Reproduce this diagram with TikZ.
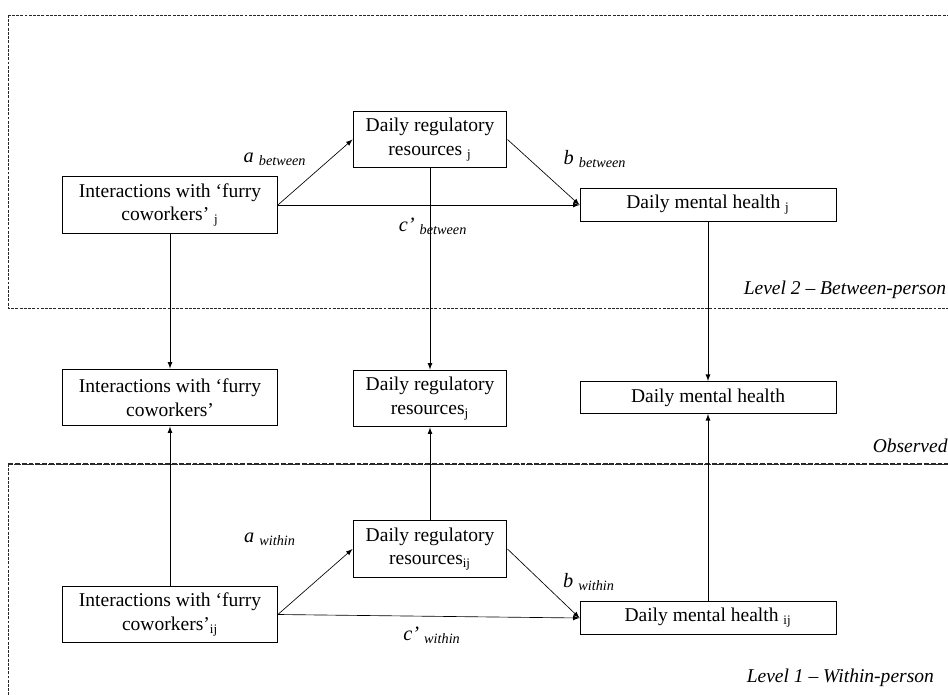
\documentclass[tikz,border=0pt]{standalone}
\usepackage{fontspec}
\setmainfont{Liberation Serif}
\usetikzlibrary{shapes,arrows,positioning,calc}
\definecolor{framegray}{RGB}{40,40,40}

\begin{document}
\begin{tikzpicture}[x=0.6145pt, y=-0.6145pt,
		font=\fontsize{12}{14.6}\selectfont,
		varbox/.style={draw, line width=0.6pt, align=center, inner sep=2pt, minimum height=35pt},
		predbox/.style={varbox, minimum width=132pt},
		medbox/.style={varbox, minimum width=94.6pt},
		outbox/.style={varbox, minimum width=157.3pt, minimum height=19.7pt},
		path/.style={line width=0.4pt, -latex},
		coef/.style={font=\fontsize{12.5}{14}\selectfont\itshape},
		lvl/.style={anchor=west, font=\fontsize{12}{14}\selectfont\itshape},
		frame/.style={framegray, line width=0.5pt, dash pattern=on 1.8pt off 0.8pt}]
				\useasboundingbox (0,0) rectangle (948,695);
				\clip (0,0) rectangle (948,695);
				
				% Level frames
				\draw[frame] (8,15) rectangle (975,308);
				\draw[frame] (8,464) rectangle (975,720);
				\draw[frame, line width=1pt, dash pattern=on 3pt off 1.2pt] (8,464) -- (975,464);
				
				% Between-person level
				\node[predbox] (xb) at (170,205) {Interactions with ‘furry\\coworkers’ \textsubscript{j}};
				\node[medbox] (drrb) at (430,139.5) {Daily regulatory\\resources \textsubscript{j}};
				\node[outbox] (dmhb) at (708,205) {Daily mental health \textsubscript{j}};
				
				\draw[path] (xb.east) -- (drrb.west);
				\draw[path] (drrb.east) -- (dmhb.west);
				\draw[path] (xb.east) -- (dmhb.west);
				\node[coef] (ab) at (275,159) {a \textsubscript{between}};
				\node[coef] (bb) at (595,159) {b \textsubscript{between}};
				\node[coef] (cb) at (433,226) {c’ \textsubscript{between}};
				\node[lvl] (lv2) at (738,290) {Level 2 -- Between-person};
				
				% Observed variables
				\node[predbox] (xo) at (170,397.5) {Interactions with ‘furry\\coworkers’};
				\node[medbox] (drro) at (430,398.5) {Daily regulatory\\resources\textsubscript{j}};
				\node[outbox] (dmho) at (708,397.5) {Daily mental health};
				\node[lvl] (obs) at (867,446) {Observed};
				
				\draw[path] (xb) -- (xo);
				\draw[path] (drrb) -- (drro);
				\draw[path] (dmhb) -- (dmho);
				
				% Within-person level
				\node[predbox] (xw) at (170,614.5) {Interactions with ‘furry\\coworkers’\textsubscript{ij}};
				\node[medbox] (drrw) at (430,549) {Daily regulatory\\resources\textsubscript{ij}};
				\node[outbox] (dmhw) at (708,618) {Daily mental health \textsubscript{ij}};
				
				\draw[path] (xw.east) -- (drrw.west);
				\draw[path] (drrw.east) -- (dmhw.west);
				\draw[path] (xw.east) -- (dmhw.west);
				\node[coef] (aw) at (270,539) {a \textsubscript{within}};
				\node[coef] (bw) at (589,582) {b \textsubscript{within}};
				\node[coef] (cw) at (432,635) {c’ \textsubscript{within}};
				\node[lvl] (lv1) at (741,678) {Level 1 -- Within-person};
				
				\draw[path] (xw) -- (xo);
				\draw[path] (drrw) -- (drro);
				\draw[path] (dmhw) -- (dmho);
			\end{tikzpicture}
\end{document}
